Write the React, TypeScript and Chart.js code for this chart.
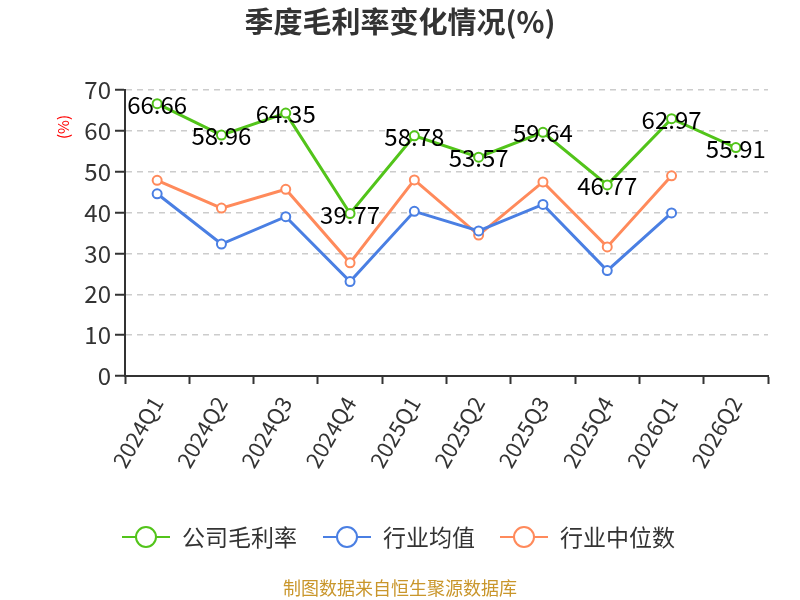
import { useEffect, useRef } from "react";
import { Chart, registerables } from "chart.js";

Chart.register(...registerables);

const quarters = ["2024Q1", "2024Q2", "2024Q3", "2024Q4", "2025Q1", "2025Q2", "2025Q3", "2025Q4", "2026Q1", "2026Q2"];
const companyMargin = [66.66, 58.96, 64.35, 39.77, 58.78, 53.57, 59.64, 46.77, 62.97, 55.91];
const industryMean = [44.6, 32.3, 39.0, 23.1, 40.3, 35.5, 42.0, 25.8, 39.9, null];
const industryMedian = [47.9, 41.1, 45.7, 27.7, 48.0, 34.5, 47.5, 31.6, 49.0, null];

const GREEN = "#52c41a";
const BLUE = "#4a7fe3";
const ORANGE = "#ff8a5b";
const FONT = '"Noto Sans CJK SC", "Noto Sans", sans-serif';

const legendItems = [
  { label: "公司毛利率", color: GREEN, cx: 146 },
  { label: "行业均值", color: BLUE, cx: 347 },
  { label: "行业中位数", color: ORANGE, cx: 524 },
];

const decorations = {
  id: "decorations",
  afterDatasetsDraw(chart: Chart) {
    const ctx = chart.ctx;
    const meta = chart.getDatasetMeta(0);
    ctx.save();
    ctx.font = `24px ${FONT}`;
    ctx.fillStyle = "#000";
    ctx.textAlign = "center";
    ctx.textBaseline = "middle";
    meta.data.forEach((pt, i) => {
      const { x, y } = pt.getProps(["x", "y"], true) as { x: number; y: number };
      ctx.fillText(companyMargin[i].toFixed(2), x, y + 1);
    });
    ctx.restore();
  },
  afterDraw(chart: Chart) {
    const ctx = chart.ctx;
    ctx.save();
    // title
    ctx.font = `bold 29px ${FONT}`;
    ctx.fillStyle = "#333";
    ctx.textAlign = "center";
    ctx.textBaseline = "middle";
    ctx.fillText("季度毛利率变化情况(%)", 400, 22);

    // unit
    ctx.save();
    ctx.translate(63, 127);
    ctx.rotate(-Math.PI / 2);
    ctx.font = `15px ${FONT}`;
    ctx.fillStyle = "#ff0000";
    ctx.fillText("(%)", 0, 0);
    ctx.restore();

    // legend
    legendItems.forEach((item) => {
      ctx.strokeStyle = item.color;
      ctx.lineWidth = 2;
      ctx.beginPath();
      ctx.moveTo(item.cx - 24, 537);
      ctx.lineTo(item.cx + 24, 537);
      ctx.stroke();
      ctx.beginPath();
      ctx.arc(item.cx, 537, 10, 0, Math.PI * 2);
      ctx.fillStyle = "#fff";
      ctx.fill();
      ctx.stroke();
      ctx.font = `23px ${FONT}`;
      ctx.fillStyle = "#333";
      ctx.textAlign = "left";
      ctx.fillText(item.label, item.cx + 36, 537);
    });

    // footer
    ctx.font = `18px ${FONT}`;
    ctx.fillStyle = "#c9962b";
    ctx.textAlign = "center";
    ctx.fillText("制图数据来自恒生聚源数据库", 400, 588);
    ctx.restore();
  },
};

const App = () => {
  const canvasRef = useRef<HTMLCanvasElement | null>(null);

  useEffect(() => {
    document.body.style.margin = "0";
    if (!canvasRef.current) return;
    Chart.defaults.font.family = FONT;

    const lineSet = (label: string, data: (number | null)[], color: string) => ({
      label,
      data,
      borderColor: color,
      backgroundColor: "#fff",
      pointBackgroundColor: "#fff",
      pointBorderColor: color,
      pointBorderWidth: 2,
      pointRadius: 4.5,
      borderWidth: 3,
      tension: 0,
      spanGaps: false,
    });

    const chart = new Chart(canvasRef.current, {
      type: "line",
      data: {
        labels: quarters,
        datasets: [
          lineSet("公司毛利率", companyMargin, GREEN),
          lineSet("行业均值", industryMean, BLUE),
          lineSet("行业中位数", industryMedian, ORANGE),
        ],
      },
      options: {
        responsive: false,
        animation: false,
        layout: { padding: { top: 90, right: 32, left: 0, bottom: 0 } },
        plugins: {
          legend: { display: false },
          title: { display: false },
          tooltip: { enabled: false },
        },
        scales: {
          x: {
            offset: true,
            grid: {
              offset: true,
              drawOnChartArea: false,
              drawTicks: true,
              tickLength: 8,
              tickColor: "#333",
              tickWidth: 2,
            },
            border: { display: true, color: "#333", width: 2 },
            ticks: {
              autoSkip: false,
              minRotation: 60,
              maxRotation: 60,
              padding: 8,
              color: "#333",
              font: { size: 22 },
            },
            afterFit: (s) => {
              s.height = 224;
            },
          },
          y: {
            min: 0,
            max: 70,
            ticks: { stepSize: 10, color: "#333", padding: 4, font: { size: 24 } },
            grid: {
              color: (c) => (c.tick && c.tick.value === 0 ? "rgba(0,0,0,0)" : "#cccccc"),
              lineWidth: 1.5,
              tickLength: 10,
              tickColor: "#333",
              tickWidth: 2,
            },
            border: { display: true, color: "#333", width: 2, dash: [6, 5] },
            afterFit: (s) => {
              s.width = 125;
            },
          },
        },
      },
      plugins: [decorations],
    });

    return () => {
      chart.destroy();
    };
  }, []);

  return (
    <div style={{ width: 800, height: 600, background: "#fff" }}>
      <canvas ref={canvasRef} width={800} height={600} />
    </div>
  );
};

export default App;
